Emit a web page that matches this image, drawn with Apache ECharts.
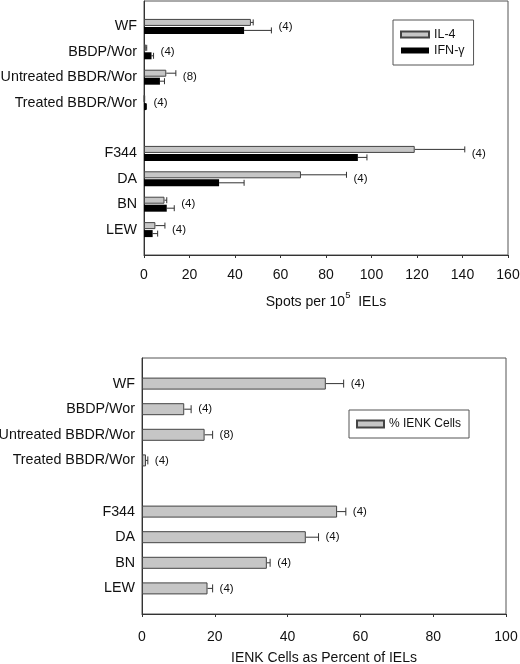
<!DOCTYPE html>
<html>
<head>
<meta charset="utf-8">
<script src="https://cdn.jsdelivr.net/npm/echarts@6/dist/echarts.min.js"></script>
<style>
html, body { margin: 0; padding: 0; background: #fff; }
#main { width: 520px; height: 664px; }
</style>
</head>
<body>
<div id="main"></div>
<script>
// rat strains, blank rows are the spacing in the figure
var strains = ['', 'WF', 'BBDP/Wor', 'Untreated BBDR/Wor', 'Treated BBDR/Wor', '', 'F344', 'DA', 'BN', 'LEW', ''];
var nRats = [null, 4, 4, 8, 4, null, 4, 4, 4, 4, null];

// top panel: spots per 10^5 IELs (mean, sem)
var il4 = [null, 47, 0.8, 9.8, 0.2, null, 119, 69, 9, 5, null];
var il4Sem = [null, 1, 0.4, 4.2, 0.1, null, 22, 20, 1, 4.2, null];
var ifn = [null, 44, 3.3, 7, 1, null, 94, 33, 10, 3.8, null];
var ifnSem = [null, 12, 0.9, 2, 0.1, null, 4, 11, 3.3, 2.2, null];

// bottom panel: IENK cells as percent of IELs
var ienk = [null, 50.5, 11.6, 17.2, 1.1, null, 53.6, 45, 34.3, 18, null];
var ienkSem = [null, 4.9, 1.9, 2.2, 0.5, null, 2.4, 3.5, 0.9, 1.4, null];

var FONT = 'Liberation Sans, Arial, sans-serif';
var INK = '#111';

// [mean, mean+sem, row]
function errData(mean, sem) {
    var out = [];
    for (var i = 0; i < mean.length; i++) {
        if (mean[i] != null) out.push([mean[i], mean[i] + sem[i], i]);
    }
    return out;
}

// label "(n)" placed after the longest error bar of the row
function nData(means, sems) {
    var out = [];
    for (var i = 0; i < nRats.length; i++) {
        if (nRats[i] == null) continue;
        var m = 0;
        for (var k = 0; k < means.length; k++) {
            m = Math.max(m, means[k][i] + sems[k][i]);
        }
        out.push([m, i, nRats[i]]);
    }
    return out;
}

function errRender(offset, cap) {
    return function (params, api) {
        var row = api.value(2);
        var p0 = api.coord([api.value(0), row]);
        var p1 = api.coord([api.value(1), row]);
        var y = p0[1] + offset;
        var st = { stroke: '#333', lineWidth: 1 };
        return {
            type: 'group',
            children: [
                { type: 'line', shape: { x1: p0[0], y1: y, x2: p1[0], y2: y }, style: st },
                { type: 'line', shape: { x1: p1[0], y1: y - cap, x2: p1[0], y2: y + cap }, style: st }
            ]
        };
    };
}

function nRender(params, api) {
    var p = api.coord([api.value(0), api.value(1)]);
    return {
        type: 'text',
        x: p[0] + 7,
        y: p[1],
        style: {
            text: '(' + api.value(2) + ')',
            fill: INK,
            font: '11.5px ' + FONT,
            verticalAlign: 'middle'
        }
    };
}

var catAxis = function (gi) {
    return {
        type: 'category',
        gridIndex: gi,
        data: strains,
        inverse: true,
        boundaryGap: false,
        axisLine: { lineStyle: { color: '#333' } },
        axisTick: { show: false },
        axisLabel: { color: INK, fontSize: 14.3, fontFamily: FONT, margin: 7, interval: 0 },
        splitLine: { show: false }
    };
};

var valAxis = function (gi, max, name, nameGap, margin) {
    return {
        type: 'value',
        gridIndex: gi,
        min: 0,
        max: max,
        interval: 20,
        axisLine: { show: true, lineStyle: { color: '#333' } },
        axisTick: { show: true, length: 3, lineStyle: { color: '#333' } },
        axisLabel: { color: INK, fontSize: 14, fontFamily: FONT, margin: margin },
        splitLine: { show: false },
        name: name,
        nameLocation: 'middle',
        nameGap: nameGap,
        nameTextStyle: {
            color: INK,
            fontFamily: FONT,
            rich: {
                a: { fontSize: 14, fontFamily: FONT, color: INK, lineHeight: 19, verticalAlign: 'bottom' },
                s: { fontSize: 9.5, fontFamily: FONT, color: INK, verticalAlign: 'top' }
            }
        }
    };
};

var grayStyle = { color: '#c6c6c6', borderColor: '#444', borderWidth: 1 };

var option = {
    animation: false,
    textStyle: { fontFamily: FONT },
    grid: [
        { left: 144, top: 1, width: 364, height: 254, show: true, borderColor: '#555', borderWidth: 1, outerBoundsMode: 'none', containLabel: false },
        { left: 142, top: 358, width: 364, height: 256, show: true, borderColor: '#555', borderWidth: 1, outerBoundsMode: 'none', containLabel: false }
    ],
    legend: [
        {
            data: ['IL-4', 'IFN-γ'],
            orient: 'vertical',
            left: 393, top: 20,
            padding: [8, 9, 8, 7],
            itemWidth: 28, itemHeight: 6, itemGap: 3,
            icon: 'rect',
            borderColor: '#555', borderWidth: 1,
            selectedMode: false,
            textStyle: { fontSize: 12.5, color: INK, fontFamily: FONT }
        },
        {
            data: ['% IENK Cells'],
            orient: 'vertical',
            left: 349, top: 410,
            padding: [8, 8, 8, 7],
            itemWidth: 27, itemHeight: 7, itemGap: 8,
            icon: 'rect',
            borderColor: '#555', borderWidth: 1,
            selectedMode: false,
            textStyle: { fontSize: 12, color: INK, fontFamily: FONT }
        }
    ],
    xAxis: [
        valAxis(0, 160, '{a|Spots per 10}{s|5}{a|  IELs}', 35, 13),
        valAxis(1, 100, '{a|IENK Cells as Percent of IELs}', 32, 16)
    ],
    yAxis: [catAxis(0), catAxis(1)],
    series: [
        {
            name: 'IL-4', type: 'bar', xAxisIndex: 0, yAxisIndex: 0,
            data: il4, barWidth: 7, barGap: '14%',
            itemStyle: grayStyle
        },
        {
            name: 'IFN-γ', type: 'bar', xAxisIndex: 0, yAxisIndex: 0,
            data: ifn, barWidth: 7, barGap: '14%',
            itemStyle: { color: '#000', borderColor: '#000', borderWidth: 0 }
        },
        {
            type: 'custom', xAxisIndex: 0, yAxisIndex: 0, silent: true,
            data: errData(il4, il4Sem), renderItem: errRender(-4, 3),
            encode: { x: [0, 1], y: 2 }
        },
        {
            type: 'custom', xAxisIndex: 0, yAxisIndex: 0, silent: true,
            data: errData(ifn, ifnSem), renderItem: errRender(4, 3),
            encode: { x: [0, 1], y: 2 }
        },
        {
            type: 'custom', xAxisIndex: 0, yAxisIndex: 0, silent: true,
            data: nData([il4, ifn], [il4Sem, ifnSem]), renderItem: nRender,
            encode: { x: 0, y: 1 }
        },
        {
            name: '% IENK Cells', type: 'bar', xAxisIndex: 1, yAxisIndex: 1,
            data: ienk, barWidth: 12,
            itemStyle: grayStyle
        },
        {
            type: 'custom', xAxisIndex: 1, yAxisIndex: 1, silent: true,
            data: errData(ienk, ienkSem), renderItem: errRender(0, 4),
            encode: { x: [0, 1], y: 2 }
        },
        {
            type: 'custom', xAxisIndex: 1, yAxisIndex: 1, silent: true,
            data: nData([ienk], [ienkSem]), renderItem: nRender,
            encode: { x: 0, y: 1 }
        }
    ]
};

var myChart = echarts.init(document.getElementById('main'));
myChart.setOption(option);
</script>
</body>
</html>
